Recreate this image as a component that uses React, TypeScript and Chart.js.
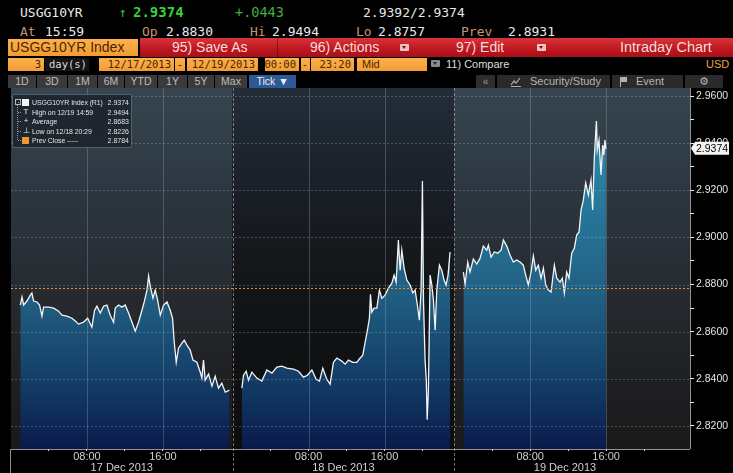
import React, { useEffect, useRef } from 'react';
import { Chart, registerables } from 'chart.js';

Chart.register(...registerables);

// ---------------- data ----------------
const DAY_MINUTES = 1400; // each session day shown 00:00 - 23:20
const X_MAX = 4290;
const Y_MIN = 2.8102;
const Y_MAX = 2.9634;

const dayLabels = ['17 Dec 2013', '18 Dec 2013', '19 Dec 2013'];
const hourTicks = [4, 8, 12, 16, 20];
const hourLabels: Record<number, string> = { 8: '08:00', 16: '16:00' };
const yMajorTicks = [2.82, 2.84, 2.86, 2.88, 2.9, 2.92, 2.94, 2.96];

const prevClose = 2.8784;
const lastPrice = 2.9374;

// [hour of day, yield]
const day1: [number, number][] = [
  [0.98, 2.8713], [1.16, 2.8747], [1.33, 2.8713], [1.68, 2.873], [2.03, 2.8755],
  [2.2, 2.8764], [2.38, 2.873], [2.73, 2.8726], [3.01, 2.8713], [3.26, 2.8666],
  [3.43, 2.8704], [3.96, 2.8704], [4.49, 2.87], [5.01, 2.8687], [5.37, 2.867],
  [5.89, 2.8666], [6.42, 2.8657], [6.77, 2.8645], [7.12, 2.8632], [7.64, 2.864],
  [8.07, 2.8657], [8.52, 2.8619], [8.8, 2.8691], [9.05, 2.8708], [9.4, 2.8679],
  [9.75, 2.8708], [10.1, 2.8713], [10.45, 2.867], [10.8, 2.864], [10.98, 2.87],
  [11.33, 2.8713], [11.68, 2.8704], [12.03, 2.8713], [12.38, 2.8679], [12.74, 2.864],
  [13.08, 2.8602], [13.43, 2.864], [13.79, 2.8691], [14.03, 2.8726], [14.32, 2.8776],
  [14.49, 2.8836], [14.66, 2.8793], [14.95, 2.8742], [15.19, 2.8776], [15.44, 2.8734],
  [15.72, 2.867], [16.07, 2.8713], [16.42, 2.8726], [16.77, 2.8691], [17.01, 2.8657],
  [17.19, 2.8555], [17.4, 2.847], [17.64, 2.853], [18.0, 2.8551], [18.24, 2.8564],
  [18.53, 2.8543], [18.87, 2.8522], [19.16, 2.8479], [19.58, 2.847], [19.93, 2.8428],
  [20.1, 2.8403], [20.27, 2.8479], [20.45, 2.8394], [20.8, 2.842], [21.16, 2.8369],
  [21.5, 2.8411], [21.85, 2.836], [22.2, 2.8381], [22.56, 2.8343], [23.0, 2.8352],
];

const day2: [number, number][] = [
  [0.98, 2.836], [1.15, 2.8415], [1.43, 2.8432], [1.68, 2.8394], [2.03, 2.8428],
  [2.56, 2.8403], [3.08, 2.839], [3.61, 2.8437], [4.14, 2.8424], [4.66, 2.845],
  [5.19, 2.8454], [5.72, 2.8445], [6.41, 2.8441], [6.94, 2.8432], [7.46, 2.8407],
  [7.88, 2.8415], [8.35, 2.8437], [8.8, 2.8398], [9.15, 2.839], [9.5, 2.8445],
  [9.92, 2.8398], [10.27, 2.8377], [10.62, 2.847], [10.98, 2.8488], [11.5, 2.8475],
  [11.85, 2.8462], [12.2, 2.8479], [12.66, 2.847], [13.08, 2.847], [13.43, 2.8488],
  [13.71, 2.85], [13.96, 2.8555], [14.2, 2.8606], [14.41, 2.8657], [14.52, 2.8759],
  [14.66, 2.8683], [14.9, 2.87], [15.19, 2.87], [15.46, 2.8776], [15.72, 2.8742],
  [16.06, 2.8755], [16.41, 2.8785], [16.77, 2.8806], [17.01, 2.884], [17.22, 2.881],
  [17.46, 2.8989], [17.64, 2.8861], [17.82, 2.8946], [18.06, 2.887], [18.35, 2.8819],
  [18.69, 2.8798], [18.98, 2.8764], [19.22, 2.8776], [19.46, 2.8713], [19.67, 2.8649],
  [19.85, 2.8776], [19.99, 2.9239], [20.1, 2.8734], [20.27, 2.8479], [20.4, 2.8394],
  [20.49, 2.8226], [20.62, 2.8352], [20.8, 2.884], [20.98, 2.8798], [21.15, 2.8734],
  [21.33, 2.8606], [21.5, 2.8776], [21.78, 2.8882], [22.03, 2.8861], [22.27, 2.8819],
  [22.48, 2.8798], [22.69, 2.884], [22.9, 2.8938],
];

const day3: [number, number][] = [
  [0.97, 2.8853], [1.15, 2.8802], [1.43, 2.8895], [1.67, 2.8853], [2.02, 2.8908],
  [2.38, 2.8887], [2.73, 2.8912], [3.07, 2.8963], [3.43, 2.8946], [3.6, 2.8967],
  [3.88, 2.8916], [4.23, 2.8938], [4.59, 2.8933], [4.94, 2.8946], [5.18, 2.8989],
  [5.54, 2.8963], [5.88, 2.8925], [6.23, 2.8895], [6.59, 2.8904], [6.94, 2.8895],
  [7.28, 2.8882], [7.53, 2.884], [7.81, 2.8798], [8.09, 2.8853], [8.34, 2.8921],
  [8.59, 2.8861], [8.86, 2.8882], [9.15, 2.8827], [9.39, 2.887], [9.64, 2.8798],
  [9.92, 2.8776], [10.2, 2.8768], [10.55, 2.8882], [10.8, 2.8827], [11.15, 2.881],
  [11.39, 2.8827], [11.6, 2.8764], [11.85, 2.8853], [12.09, 2.8827], [12.38, 2.8933],
  [12.65, 2.8954], [12.9, 2.901], [13.15, 2.9023], [13.36, 2.9116], [13.6, 2.9158],
  [13.85, 2.9231], [14.13, 2.918], [14.41, 2.9243], [14.58, 2.9116], [14.76, 2.9341],
  [14.98, 2.9494], [15.07, 2.9371], [15.25, 2.9413], [15.46, 2.9265], [15.64, 2.9392],
  [15.75, 2.935], [15.88, 2.9413], [15.98, 2.9374],
];

const legendLabels = ['USGG10YR Index (R1)', 'High on 12/19 14:59', 'Average', 'Low on 12/18 20:29', 'Prev Close -----'];
const legendValues = ['2.9374', '2.9494', '2.8683', '2.8226', '2.8784'];
const rangeButtons = ['1D', '3D', '1M', '6M', 'YTD', '1Y', '5Y', 'Max'];

// ---------------- derived tick tables ----------------
const xTickValues: number[] = [];
const xLabelFor = new Map<number, string | string[]>();
const hiddenTicks = new Set<number>();
dayLabels.forEach((label, d) => {
  const o = d * DAY_MINUTES;
  hourTicks.forEach((h) => {
    const v = o + h * 60;
    xTickValues.push(v);
    if (hourLabels[h]) xLabelFor.set(v, hourLabels[h]);
  });
  const c = o + DAY_MINUTES / 2;
  xTickValues.push(c);
  xLabelFor.set(c, ['', label]);
  hiddenTicks.add(c);
});
xTickValues.sort((a, b) => a - b);

const yTickValues: number[] = [];
yMajorTicks.forEach((m, i) => {
  yTickValues.push(m);
  if (i < yMajorTicks.length - 1) yTickValues.push(Math.round((m + 0.01) * 100) / 100);
});
const isMajor = (v: number) => yMajorTicks.some((m) => Math.abs(m - v) < 1e-6);

const mono = '"DejaVu Sans Mono", monospace';
const sans = '"Liberation Sans", Arial, sans-serif';

function fillGradient(chart: any) {
  const { ctx, chartArea } = chart;
  if (!chartArea) return 'rgba(30,90,130,0.9)';
  const g = ctx.createLinearGradient(0, chartArea.top, 0, chartArea.bottom);
  g.addColorStop(0, 'rgba(50,162,204,0.9)');
  g.addColorStop(0.17, 'rgba(42,141,178,0.9)');
  g.addColorStop(0.4, 'rgba(37,120,158,0.9)');
  g.addColorStop(0.6, 'rgba(32,98,138,0.9)');
  g.addColorStop(0.75, 'rgba(22,74,117,0.92)');
  g.addColorStop(0.88, 'rgba(15,50,98,0.94)');
  g.addColorStop(1, 'rgba(9,26,76,0.96)');
  return g;
}

const bgPlugin = {
  id: 'bbgBackground',
  beforeDraw(chart: any) {
    const { ctx, chartArea: a, scales } = chart;
    const x = scales.x;
    ctx.save();
    ctx.fillStyle = '#000';
    ctx.fillRect(0, 0, chart.width, chart.height);
    const slate = ctx.createLinearGradient(0, a.top, 0, a.bottom);
    slate.addColorStop(0, '#36454f');
    slate.addColorStop(0.15, '#313e48');
    slate.addColorStop(0.3, '#2c3640');
    slate.addColorStop(0.5, '#272d34');
    slate.addColorStop(0.62, '#25282c');
    slate.addColorStop(0.8, '#1f2022');
    slate.addColorStop(1, '#19191a');
    const dark = ctx.createLinearGradient(0, a.top, 0, a.bottom);
    dark.addColorStop(0, '#232d38');
    dark.addColorStop(0.15, '#1e2630');
    dark.addColorStop(0.3, '#191e26');
    dark.addColorStop(0.5, '#141619');
    dark.addColorStop(0.7, '#111213');
    dark.addColorStop(1, '#0d0d0e');
    const bands: [number, number, any][] = [
      [0, DAY_MINUTES, slate],
      [DAY_MINUTES, 2 * DAY_MINUTES, dark],
      [2 * DAY_MINUTES, X_MAX, slate],
    ];
    bands.forEach(([s, e, g]) => {
      const x0 = x.getPixelForValue(s);
      const x1 = x.getPixelForValue(e);
      ctx.fillStyle = g;
      ctx.fillRect(x0, a.top, x1 - x0, a.bottom - a.top);
    });
    ctx.restore();
  },
  afterDatasetsDraw(chart: any) {
    const { ctx, chartArea: a, scales } = chart;
    const x = scales.x;
    const y = scales.y;
    ctx.save();
    ctx.lineWidth = 1;
    ctx.setLineDash([2, 2]);
    ctx.strokeStyle = 'rgba(175,185,195,0.32)';
    yMajorTicks.forEach((v) => {
      const py = Math.round(y.getPixelForValue(v)) + 0.5;
      ctx.beginPath();
      ctx.moveTo(a.left, py);
      ctx.lineTo(a.right, py);
      ctx.stroke();
    });
    ctx.setLineDash([]);
    ctx.strokeStyle = 'rgba(165,178,190,0.3)';
    dayLabels.forEach((_, d) => {
      [8, 16].forEach((h) => {
        const px = Math.round(x.getPixelForValue(d * DAY_MINUTES + h * 60)) + 0.5;
        ctx.beginPath();
        ctx.moveTo(px, a.top);
        ctx.lineTo(px, a.bottom);
        ctx.stroke();
      });
    });
    const pc = Math.round(y.getPixelForValue(prevClose)) + 0.5;
    ctx.setLineDash([2, 2]);
    ctx.strokeStyle = 'rgba(232,150,60,0.95)';
    ctx.beginPath();
    ctx.moveTo(a.left, pc);
    ctx.lineTo(a.right, pc);
    ctx.stroke();
    ctx.setLineDash([3, 2]);
    ctx.strokeStyle = 'rgba(200,200,200,0.55)';
    [DAY_MINUTES, 2 * DAY_MINUTES].forEach((v) => {
      const px = Math.round(x.getPixelForValue(v)) + 0.5;
      ctx.beginPath();
      ctx.moveTo(px, a.top);
      ctx.lineTo(px, chart.height);
      ctx.stroke();
    });
    ctx.setLineDash([]);
    ctx.strokeStyle = 'rgba(205,205,205,0.7)';
    ctx.beginPath();
    ctx.moveTo(a.left, a.bottom + 0.5);
    ctx.lineTo(a.right, a.bottom + 0.5);
    ctx.moveTo(a.right + 0.5, a.top);
    ctx.lineTo(a.right + 0.5, a.bottom);
    ctx.moveTo(a.left - 0.5, a.bottom);
    ctx.lineTo(a.left - 0.5, chart.height);
    ctx.stroke();
    ctx.restore();
  },
  afterDraw(chart: any) {
    const { ctx, chartArea: a, scales } = chart;
    const py = scales.y.getPixelForValue(lastPrice) - 1;
    ctx.save();
    ctx.fillStyle = '#f4f4f4';
    ctx.beginPath();
    ctx.moveTo(a.right + 1, py);
    ctx.lineTo(a.right + 5, py - 6.5);
    ctx.lineTo(a.right + 39, py - 6.5);
    ctx.lineTo(a.right + 39, py + 6.5);
    ctx.lineTo(a.right + 5, py + 6.5);
    ctx.closePath();
    ctx.fill();
    ctx.fillStyle = '#000';
    ctx.font = '10.5px ' + sans;
    ctx.textAlign = 'center';
    ctx.textBaseline = 'middle';
    ctx.fillText(lastPrice.toFixed(4), a.right + 22, py + 0.5);
    ctx.restore();
  },
};

function T(props: { x: number; y: number; c: string; s: number; f?: string; w?: number; children: any }) {
  const { x, y, c, s, f = mono, w = 400, children } = props;
  return (
    <div style={{ position: 'absolute', left: x, top: y, color: c, fontSize: s, fontFamily: f, fontWeight: w, lineHeight: 1, whiteSpace: 'nowrap' }}>
      {children}
    </div>
  );
}

function Box(props: { x: number; y: number; w: number; h: number; bg: string; children?: any; style?: any }) {
  const { x, y, w, h, bg, children, style } = props;
  return (
    <div style={{ position: 'absolute', left: x, top: y, width: w, height: h, background: bg, overflow: 'hidden', whiteSpace: 'nowrap', ...style }}>
      {children}
    </div>
  );
}

const orange = 'linear-gradient(#fbb14e, #f39b32)';
const tan = '#c8946c';

function Caret({ x, y, bg, fg }: { x: number; y: number; bg: string; fg: string }) {
  return (
    <div style={{ position: 'absolute', left: x, top: y, width: 9, height: 7, background: bg, borderRadius: 1 }}>
      <div style={{ position: 'absolute', left: 2, top: 2, width: 0, height: 0, borderLeft: '2.5px solid transparent', borderRight: '2.5px solid transparent', borderTop: `3px solid ${fg}` }} />
    </div>
  );
}

const fieldText = { position: 'absolute' as const, right: 3, top: 0, lineHeight: '13px', fontSize: 10.5, fontFamily: mono, color: '#4a2600' };

export default function App() {
  const ref = useRef<HTMLCanvasElement>(null);

  useEffect(() => {
    const canvas = ref.current;
    if (!canvas) return;
    const datasets = [day1, day2, day3].map((d, i) => ({
      data: d.map(([h, v]) => ({ x: i * DAY_MINUTES + h * 60, y: v })),
      borderColor: '#f2f5f8',
      borderWidth: 1.3,
      pointRadius: 0,
      tension: 0,
      fill: 'start',
      backgroundColor: (c: any) => fillGradient(c.chart),
    }));
    const chart = new Chart(canvas, {
      type: 'line',
      data: { datasets } as any,
      options: {
        responsive: false,
        animation: false,
        devicePixelRatio: 1,
        layout: { padding: { left: 11, right: 0, top: 0, bottom: 0 } },
        plugins: { legend: { display: false }, tooltip: { enabled: false } },
        scales: {
          x: {
            type: 'linear',
            min: 0,
            max: X_MAX,
            afterBuildTicks: (s: any) => {
              s.ticks = xTickValues.map((value) => ({ value }));
            },
            afterFit: (s: any) => {
              s.height = 24;
              s.paddingLeft = 0;
              s.paddingRight = 0;
            },
            ticks: {
              autoSkip: false,
              maxRotation: 0,
              minRotation: 0,
              padding: 0,
              color: '#cfcfcf',
              font: { family: sans, size: 11, lineHeight: 1 },
              callback: (v: any) => xLabelFor.get(Number(v)) ?? '',
            },
            grid: {
              drawOnChartArea: false,
              drawTicks: true,
              tickLength: 2,
              tickColor: (c: any) => (hiddenTicks.has(c.tick?.value) ? 'rgba(0,0,0,0)' : '#d8d8d8'),
            },
            border: { display: false },
          },
          y: {
            type: 'linear',
            position: 'right',
            min: Y_MIN,
            max: Y_MAX,
            afterBuildTicks: (s: any) => {
              s.ticks = yTickValues.map((value) => ({ value }));
            },
            afterFit: (s: any) => {
              s.width = 43;
              s.paddingTop = 0;
              s.paddingBottom = 0;
            },
            ticks: {
              autoSkip: false,
              padding: 2,
              color: '#e4e4e4',
              font: { family: sans, size: 10.5 },
              callback: (v: any) => (isMajor(Number(v)) ? Number(v).toFixed(4) : ''),
            },
            grid: { drawOnChartArea: false, drawTicks: true, tickLength: 4, tickColor: '#e8e8e8' },
            border: { display: false },
          },
        },
      } as any,
      plugins: [bgPlugin],
    });
    return () => chart.destroy();
  }, []);

  const btnX = [8, 37, 68, 98, 125, 158, 188, 215];
  const btnW = [28, 30, 29, 26, 32, 29, 26, 32];

  return (
    <div style={{ position: 'relative', width: 733, height: 473, background: '#000', overflow: 'hidden' }}>
      <style>{'body{margin:0;background:#000}'}</style>

      {/* row 1 */}
      <T x={20} y={5.5} c="#e8e8e8" s={13}>USGG10YR</T>
      <T x={119} y={5.5} c="#36c236" s={13}>↑</T>
      <T x={133} y={5} c="#3ad03a" s={14} w={700}>2.9374</T>
      <T x={235} y={5.5} c="#43ad43" s={13.5}>+.0443</T>
      <T x={363} y={5.5} c="#e8e8e8" s={13}>2.9392/2.9374</T>
      {/* row 2 */}
      <T x={20} y={25} c={tan} s={13}>At</T>
      <T x={45} y={25} c="#e8e8e8" s={13}>15:59</T>
      <T x={142} y={25} c={tan} s={13}>Op</T>
      <T x={166} y={25} c="#e8e8e8" s={13}>2.8830</T>
      <T x={250} y={25} c={tan} s={13}>Hi</T>
      <T x={272} y={25} c="#e8e8e8" s={13}>2.9494</T>
      <T x={356} y={25} c={tan} s={13}>Lo</T>
      <T x={378} y={25} c="#e8e8e8" s={13}>2.8757</T>
      <T x={461} y={25} c={tan} s={13}>Prev</T>
      <T x={508} y={25} c="#e8e8e8" s={13}>2.8931</T>

      {/* row 3 */}
      <Box x={140} y={38} w={593} h={19} bg="linear-gradient(#d8353a, #c01820 55%, #a80f18)" />
      <Box x={277} y={38} w={1} h={19} bg="rgba(90,0,0,0.5)" />
      <Box x={8} y={39} w={130} h={17} bg={orange}>
        <div style={{ position: 'absolute', left: 2, top: 0, lineHeight: '17px', fontSize: 14, fontFamily: sans, color: '#4a2600' }}>USGG10YR Index</div>
      </Box>
      <div style={{ position: 'absolute', left: 172, top: 38, lineHeight: '19px', fontSize: 14, fontFamily: sans, color: '#f6dcdc', whiteSpace: 'nowrap' }}>95) Save As</div>
      <div style={{ position: 'absolute', left: 310, top: 38, lineHeight: '19px', fontSize: 14, fontFamily: sans, color: '#f6dcdc', whiteSpace: 'nowrap' }}>96) Actions</div>
      <Caret x={400} y={44} bg="#ecc4c4" fg="#7a1010" />
      <div style={{ position: 'absolute', left: 456, top: 38, lineHeight: '19px', fontSize: 14, fontFamily: sans, color: '#f6dcdc', whiteSpace: 'nowrap' }}>97) Edit</div>
      <Caret x={537} y={44} bg="#ecc4c4" fg="#7a1010" />
      <div style={{ position: 'absolute', left: 620, top: 38, lineHeight: '19px', fontSize: 14.5, fontFamily: sans, color: '#f6dcdc', whiteSpace: 'nowrap' }}>Intraday Chart</div>

      {/* row 4 */}
      <Box x={8} y={58} w={36} h={13} bg={orange}>
        <div style={fieldText}>3</div>
      </Box>
      <Box x={45} y={58} w={44} h={13} bg="#151515">
        <div style={{ position: 'absolute', left: 4, top: 0, lineHeight: '13px', fontSize: 10.5, fontFamily: mono, color: '#dcdcdc' }}>day(s)</div>
      </Box>
      {[
        [99, 75, '12/17/2013'],
        [175, 10, '-'],
        [187, 71, '12/19/2013'],
        [265, 34, '00:00'],
        [301, 9, '-'],
        [311, 43, '23:20'],
      ].map(([x, w, t]) => (
        <Box key={String(x)} x={x as number} y={58} w={w as number} h={13} bg={orange}>
          <div style={t === '-' ? { ...fieldText, right: 2 } : fieldText}>{t}</div>
        </Box>
      ))}
      <Box x={357} y={58} w={70} h={13} bg={orange}>
        <div style={{ position: 'absolute', left: 5, top: 0, lineHeight: '13px', fontSize: 11, fontFamily: sans, color: '#4a2600' }}>Mid</div>
      </Box>
      <Caret x={431} y={60} bg="#8a8a8a" fg="#2a2a2a" />
      <div style={{ position: 'absolute', left: 446, top: 58, lineHeight: '13px', fontSize: 11, fontFamily: sans, color: '#dedede', whiteSpace: 'nowrap' }}>11) Compare</div>
      <div style={{ position: 'absolute', left: 706, top: 58, lineHeight: '13px', fontSize: 11, fontFamily: sans, color: '#f3a040', whiteSpace: 'nowrap' }}>USD</div>

      {/* row 5 */}
      {rangeButtons.map((b, i) => (
        <Box key={b} x={btnX[i]} y={75} w={btnW[i]} h={13} bg="#3a3a3a">
          <div style={{ width: '100%', textAlign: 'center', lineHeight: '13px', fontSize: 10.5, fontFamily: sans, color: '#bdbdbd' }}>{b}</div>
        </Box>
      ))}
      <Box x={249} y={75} w={47} h={13} bg="#2b5a96">
        <div style={{ width: '100%', textAlign: 'center', lineHeight: '13px', fontSize: 10.5, fontFamily: sans, color: '#f0f0f0' }}>Tick ▼</div>
      </Box>
      <Box x={476} y={75} w={19} h={13} bg="#2e2e2e">
        <div style={{ width: '100%', textAlign: 'center', lineHeight: '13px', fontSize: 10, fontFamily: sans, color: '#9a9a9a' }}>«</div>
      </Box>
      <Box x={497} y={75} w={113} h={13} bg="#2a2a2a">
        <svg width="12" height="11" style={{ position: 'absolute', left: 13, top: 1 }}>
          <polyline points="1,9 4,5 6,7 10,2" fill="none" stroke="#b0b0b0" strokeWidth="1.2" />
          <line x1="1" y1="10.5" x2="11" y2="10.5" stroke="#b0b0b0" />
        </svg>
        <div style={{ position: 'absolute', left: 33, top: 0, lineHeight: '13px', fontSize: 11, fontFamily: sans, color: '#b4b4b4' }}>Security/Study</div>
      </Box>
      <Box x={612} y={75} w={71} h={13} bg="#2a2a2a">
        <svg width="8" height="10" style={{ position: 'absolute', left: 8, top: 2 }}>
          <rect x="0" y="0" width="7" height="5" fill="#b0b0b0" />
          <line x1="0.5" y1="0" x2="0.5" y2="10" stroke="#b0b0b0" />
        </svg>
        <div style={{ position: 'absolute', left: 24, top: 0, lineHeight: '13px', fontSize: 11, fontFamily: sans, color: '#b4b4b4' }}>Event</div>
      </Box>
      <Box x={685} y={75} w={38} h={13} bg="#2a2a2a">
        <div style={{ width: '100%', textAlign: 'center', lineHeight: '13px', fontSize: 11, fontFamily: '"DejaVu Sans", sans-serif', color: '#b4b4b4' }}>⚙</div>
      </Box>

      {/* chart */}
      <canvas ref={ref} width={733} height={385} style={{ position: 'absolute', left: 0, top: 88, display: 'block' }} />

      {/* legend box */}
      <div style={{ position: 'absolute', left: 12, top: 94, width: 118, height: 52, background: 'rgba(28,36,44,0.92)', border: '1px solid #56616b', borderRadius: 2, zIndex: 2 }}>
        <div style={{ position: 'absolute', left: 4, top: 7, width: 0, height: 38, borderLeft: '1px dotted #8d979f' }} />
        <div style={{ position: 'absolute', left: 2, top: 4, width: 4, height: 4, border: '1px solid #b8c0c6', background: '#1c242c' }} />
        {legendLabels.map((l, i) => {
          const cy = [7, 17, 26, 36, 45][i];
          const icon =
            i === 0 ? <div style={{ position: 'absolute', left: 9, top: cy - 3.5, width: 7, height: 7, background: '#f4f4f4' }} /> :
            i === 4 ? <div style={{ position: 'absolute', left: 9, top: cy - 3.5, width: 7, height: 7, background: '#f0962e' }} /> :
            <div style={{ position: 'absolute', left: 9, top: cy - 5, width: 8, textAlign: 'center', fontSize: 8, lineHeight: '10px', fontFamily: sans, color: '#e8e8e8' }}>{['', 'T', '+', '⊥'][i]}</div>;
          return (
            <React.Fragment key={l}>
              <div style={{ position: 'absolute', left: 5, top: cy, width: 3, height: 0, borderTop: '1px dotted #8d979f' }} />
              {icon}
              <div style={{ position: 'absolute', left: 19, top: cy - 4.5, lineHeight: '9px', fontSize: 7, letterSpacing: -0.1, fontFamily: sans, color: '#dfe3e6', whiteSpace: 'nowrap' }}>{l}</div>
              <div style={{ position: 'absolute', right: 2, top: cy - 4.5, lineHeight: '9px', fontSize: 7, fontFamily: sans, color: '#dfe3e6', whiteSpace: 'nowrap' }}>{legendValues[i]}</div>
            </React.Fragment>
          );
        })}
      </div>
    </div>
  );
}
